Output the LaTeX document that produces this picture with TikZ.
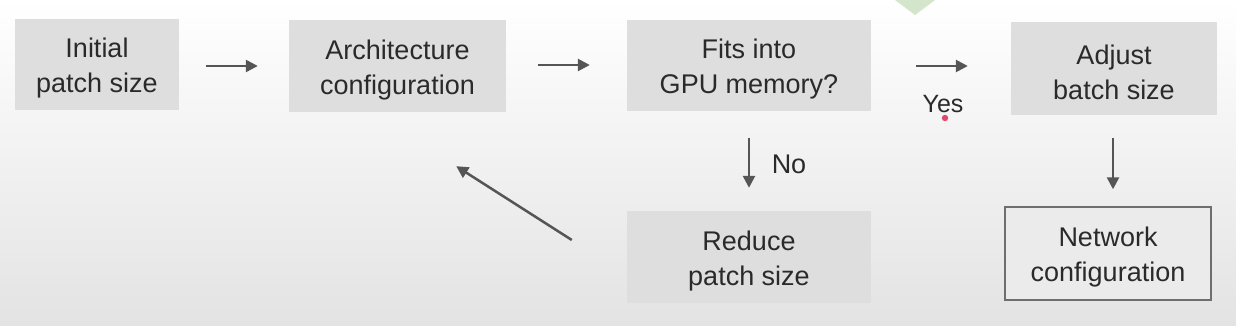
\documentclass[tikz,border=0pt]{standalone}
\usepackage{fontspec}
\setmainfont{Liberation Sans}
\usetikzlibrary{arrows.meta,calc}
\definecolor{boxfill}{HTML}{DEDEDE}
\definecolor{txt}{HTML}{2A2A2A}
\definecolor{arrowc}{HTML}{555555}
\definecolor{bgbot}{HTML}{E3E3E3}
\definecolor{leaf}{HTML}{D3E6CB}
\definecolor{cursor}{HTML}{E04A68}
\newcommand{\tp}{\rule{0pt}{27pt}}
\tikzset{
  box/.style={fill=boxfill, draw=none, text=txt, align=center, inner sep=0pt,
    font=\fontsize{27}{35}\selectfont},
  outbox/.style={fill=white!40!boxfill, draw=arrowc!85!white, line width=1.4pt, text=txt, align=center, inner sep=0pt,
    font=\fontsize{27}{35}\selectfont},
  arr/.style={draw=arrowc, line width=2.5pt, -{Triangle[length=12pt,width=12pt]}},
  lbl/.style={text=txt, inner sep=0pt, font=\fontsize{27}{35}\selectfont}
}
\begin{document}
\begin{tikzpicture}[x=1pt,y=-1pt]
\shade[top color=white, bottom color=bgbot] (0,0) rectangle (1236,326);
\useasboundingbox (0,0) rectangle (1236,326);
\fill[leaf] (895,0) -- (935,0) -- (915,15) -- cycle;

\node[box, minimum width=164pt, minimum height=91pt] (init) at (97,64.5) {\tp Initial\\patch size};
\node[box, minimum width=217pt, minimum height=92pt] (arch) at (397.5,66) {\tp Architecture\\configuration};
\node[box, minimum width=244pt, minimum height=91pt] (fits) at (749,65.5) {\tp Fits into\\GPU memory?};
\node[box, minimum width=206pt, minimum height=93pt] (adj) at (1114,68.5) {\tp Adjust\\batch size};
\node[box, minimum width=244pt, minimum height=92pt] (red) at (749,257) {\tp Reduce\\patch size};
\node[outbox, minimum width=206pt, minimum height=93pt] (net) at (1108,253.5) {\tp Network\\configuration};

\draw[arr] ($(init.east)+(27,1.5)$) -- ($(arch.west)+(-31,0)$);
\draw[arr] ($(arch.east)+(32,-1)$) -- ($(fits.west)+(-37,-0.5)$);
\draw[arr] ($(fits.east)+(45,0.5)$) -- ($(adj.west)+(-43,-2.5)$);
\draw[arr] ($(fits.south)+(0,27)$) -- ($(red.north)+(0,-23)$);
\draw[arr] ($(adj.south)+(-1,23)$) -- ($(net.north)+(5,-17)$);
\draw[arr] ($(red.west)+(-55,-17)$) -- ($(arch.south east)+(-50,54)$);

\node[lbl, font=\fontsize{25}{30}\selectfont] (yes) at (943,104.5) {Yes};
\node[lbl] (no) at (789,164) {No};
\fill[cursor] (945,118) circle (3.2pt);
\end{tikzpicture}
\end{document}
